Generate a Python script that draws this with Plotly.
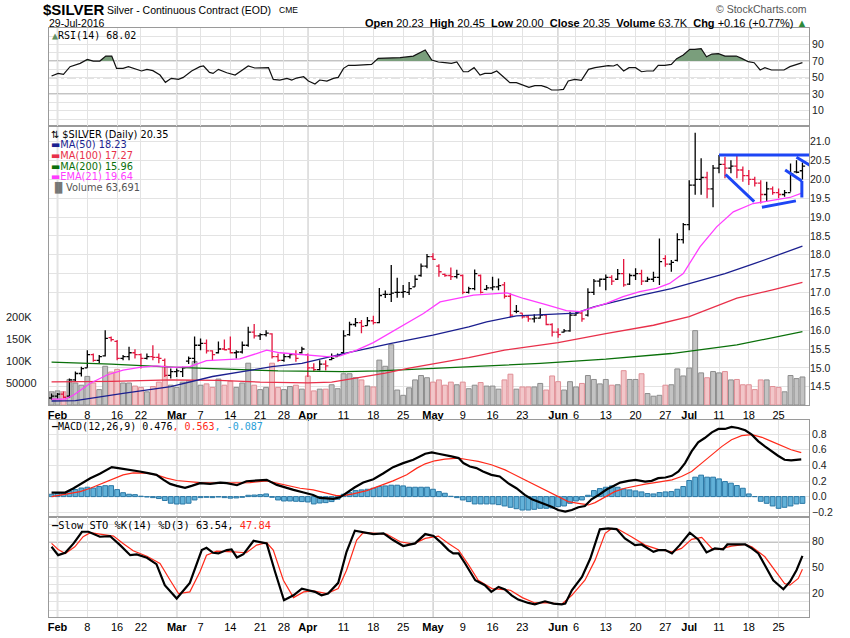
import pandas as pd
import plotly.graph_objects as go

W, H = 850, 638

# ---------------- calendar ----------------
HOLIDAYS = ['2016-02-15', '2016-03-25', '2016-05-30', '2016-07-04']
dates = [d.strftime('%Y-%m-%d') for d in pd.bdate_range('2016-01-29', '2016-07-29')
         if d.strftime('%Y-%m-%d') not in HOLIDAYS]
pos = list(range(len(dates)))

tick_dates = ['2016-02-01', '2016-02-08', '2016-02-16', '2016-02-22', '2016-03-01', '2016-03-07',
              '2016-03-14', '2016-03-21', '2016-03-28', '2016-04-01', '2016-04-11', '2016-04-18',
              '2016-04-25', '2016-05-02', '2016-05-09', '2016-05-16', '2016-05-23', '2016-06-01',
              '2016-06-06', '2016-06-13', '2016-06-20', '2016-06-27', '2016-07-01', '2016-07-11',
              '2016-07-18', '2016-07-25']
tick_text = ['Feb', '8', '16', '22', 'Mar', '7', '14', '21', '28', 'Apr', '11', '18', '25',
             'May', '9', '16', '23', 'Jun', '6', '13', '20', '27', 'Jul', '11', '18', '25']
month_dates = ['2016-02-01', '2016-03-01', '2016-04-01', '2016-05-02', '2016-06-01', '2016-07-01']

# ---------------- price data ----------------
opens = [14.20, 14.25, 14.30, 14.25, 14.68, 14.85, 15.00, 15.35, 15.20, 15.32,
         15.80, 15.70, 15.25, 15.30, 15.40, 15.35, 15.25, 15.30, 15.28, 15.20,
         14.80, 14.90, 14.90, 15.18, 15.25, 15.60, 15.65, 15.45, 15.40, 15.50,
         15.50, 15.40, 15.42, 15.60, 15.95, 15.85, 15.88, 15.90, 15.30, 15.20,
         15.30, 15.35, 15.40, 15.35, 15.00, 14.95, 15.10, 15.22, 15.30, 15.40,
         15.88, 16.15, 16.20, 16.12, 16.25, 16.20, 16.95, 16.95, 17.00, 17.00,
         17.00, 17.15, 17.45, 17.70, 17.95, 17.70, 17.48, 17.45, 17.42, 17.45,
         17.00, 17.10, 17.45, 17.08, 17.12, 17.15, 17.20, 16.90, 16.50, 16.45,
         16.35, 16.30, 16.32, 16.40, 16.15, 15.95, 15.95, 15.98, 16.40, 16.45,
         16.40, 17.00, 17.30, 17.35, 17.40, 17.35, 17.50, 17.22, 17.45, 17.50,
         17.30, 17.35, 17.40, 17.90, 17.75, 17.85, 18.40, 18.80, 19.85, 20.00,
         20.05, 19.75, 20.30, 20.40, 20.30, 20.35, 20.25, 20.10, 20.00, 19.90,
         19.60, 19.75, 19.65, 19.60, 19.65, 20.20, 20.23]
highs = [14.32, 14.33, 14.37, 14.72, 14.90, 15.03, 15.47, 15.38, 15.34, 16.00,
         15.83, 15.74, 15.34, 15.56, 15.49, 15.38, 15.38, 15.60, 15.38, 15.25,
         14.98, 14.98, 15.03, 15.30, 15.83, 15.78, 15.75, 15.47, 15.70, 15.75,
         15.83, 15.47, 15.70, 16.09, 16.16, 15.92, 16.00, 15.92, 15.38, 15.38,
         15.38, 15.47, 15.56, 15.38, 15.12, 15.20, 15.20, 15.38, 15.38, 16.00,
         16.22, 16.32, 16.27, 16.35, 16.38, 17.12, 17.05, 17.73, 17.39, 17.20,
         17.28, 17.46, 17.77, 18.02, 18.04, 17.75, 17.50, 17.66, 17.60, 17.48,
         17.15, 17.61, 17.48, 17.20, 17.42, 17.37, 17.28, 16.98, 16.67, 16.45,
         16.40, 16.42, 16.58, 16.40, 16.18, 16.05, 16.03, 16.49, 16.49, 16.49,
         17.11, 17.36, 17.37, 17.48, 17.46, 17.62, 17.89, 17.50, 17.64, 17.60,
         17.42, 17.55, 18.43, 17.99, 17.86, 18.57, 18.84, 19.98, 21.24, 20.56,
         20.20, 20.38, 20.65, 20.60, 20.51, 20.65, 20.34, 20.25, 20.07, 19.98,
         19.94, 19.81, 19.76, 19.72, 20.42, 20.51, 20.45]
lows = [14.15, 14.18, 14.19, 14.20, 14.63, 14.77, 15.00, 15.16, 15.12, 15.30,
        15.70, 15.20, 15.20, 15.20, 15.25, 14.98, 15.22, 15.20, 15.12, 14.76,
        14.72, 14.76, 14.76, 15.10, 15.12, 15.47, 15.38, 15.20, 15.38, 15.47,
        15.38, 15.25, 15.38, 15.56, 15.78, 15.74, 15.83, 15.25, 15.16, 15.16,
        15.25, 15.16, 15.38, 14.76, 14.90, 14.93, 14.93, 15.20, 15.29, 15.38,
        15.85, 16.09, 15.92, 16.12, 16.15, 16.18, 16.85, 16.75, 16.86, 16.86,
        16.93, 17.15, 17.42, 17.64, 17.86, 17.42, 17.42, 17.33, 17.37, 16.95,
        16.97, 17.06, 16.97, 17.06, 17.06, 17.06, 16.84, 16.34, 16.45, 16.31,
        16.22, 16.20, 16.31, 16.13, 15.83, 15.80, 15.94, 15.96, 16.38, 16.22,
        16.36, 16.93, 17.15, 17.06, 17.20, 17.33, 17.15, 17.20, 17.33, 17.20,
        17.28, 17.28, 17.20, 17.68, 17.55, 17.82, 18.30, 18.65, 19.59, 19.59,
        19.50, 19.26, 20.16, 20.03, 20.16, 20.03, 19.94, 19.85, 19.81, 19.36,
        19.41, 19.59, 19.50, 19.54, 19.67, 20.16, 20.00]
closes = [14.25, 14.30, 14.22, 14.68, 14.85, 14.98, 15.35, 15.20, 15.30, 15.78,
          15.75, 15.25, 15.30, 15.40, 15.35, 15.25, 15.30, 15.28, 15.25, 14.80,
          14.90, 14.92, 15.00, 15.25, 15.60, 15.65, 15.45, 15.35, 15.50, 15.48,
          15.40, 15.42, 15.60, 15.95, 15.85, 15.88, 15.92, 15.30, 15.20, 15.30,
          15.35, 15.25, 15.50, 15.00, 14.95, 15.10, 15.05, 15.25, 15.33, 15.85,
          16.15, 16.20, 16.10, 16.25, 16.20, 16.92, 16.95, 16.98, 17.00, 17.02,
          17.10, 17.35, 17.70, 17.95, 17.88, 17.55, 17.45, 17.42, 17.48, 17.00,
          17.10, 17.50, 17.00, 17.12, 17.15, 17.18, 16.90, 16.40, 16.50, 16.35,
          16.30, 16.32, 16.40, 16.15, 15.95, 15.88, 15.98, 16.40, 16.45, 16.30,
          17.00, 17.30, 17.35, 17.40, 17.30, 17.50, 17.20, 17.45, 17.50, 17.30,
          17.35, 17.40, 17.82, 17.75, 17.80, 18.40, 18.80, 19.85, 20.00, 20.05,
          19.75, 20.30, 20.40, 20.30, 20.35, 20.25, 20.10, 20.00, 19.90, 19.60,
          19.75, 19.65, 19.60, 19.65, 20.15, 20.19, 20.35]
volume_k = [30, 32, 30, 58, 50, 45, 65, 50, 35, 88,
            75, 81, 50, 50, 43, 40, 30, 42, 52, 88,
            45, 40, 52, 55, 99, 45, 48, 40, 59, 45,
            54, 40, 50, 95, 45, 35, 40, 95, 40, 35,
            42, 45, 36, 66, 32, 36, 36, 46, 37, 71,
            71, 62, 57, 43, 41, 102, 88, 137, 34, 22,
            39, 57, 67, 62, 52, 57, 45, 52, 46, 52,
            37, 45, 51, 43, 43, 36, 57, 70, 36, 41,
            41, 41, 49, 34, 66, 53, 34, 53, 41, 49,
            67, 58, 48, 58, 45, 46, 78, 58, 58, 71,
            26, 20, 22, 45, 46, 82, 66, 84, 169, 73,
            62, 76, 73, 76, 57, 58, 46, 46, 35, 57,
            57, 42, 40, 30, 67, 60, 63.691]
volume_ticks = [50000, 100000, 150000, 200000]
volume_ticktext = ['50000', '100K', '150K', '200K']

# ---------------- overlays (bar position, value) ----------------
ma50_pos = [0, 4, 12, 20, 27, 37, 42, 49, 57, 64, 70, 73, 78, 85, 88, 91, 99, 104, 107, 113, 118, 126]
ma50_val = [14.12, 14.13, 14.32, 14.5, 14.77, 15.03, 15.12, 15.38, 15.65, 15.87, 16.09, 16.22, 16.38,
            16.42, 16.45, 16.62, 16.93, 17.1, 17.24, 17.5, 17.77, 18.23]
ma100_pos = [0, 10, 20, 28, 35, 43, 47, 52, 56, 60, 65, 70, 76, 85, 93, 101, 107, 115, 121, 126]
ma100_val = [14.63, 14.64, 14.68, 14.67, 14.62, 14.6, 14.62, 14.75, 14.86, 14.99, 15.12, 15.27, 15.47,
             15.67, 15.91, 16.13, 16.36, 16.85, 17.07, 17.27]
ma200_pos = [0, 10, 21, 27, 38, 49, 55, 65, 82, 93, 104, 115, 126]
ma200_val = [15.15, 15.1, 15.01, 14.98, 14.92, 14.9, 14.92, 14.99, 15.12, 15.23, 15.38, 15.61, 15.96]
ema21_pos = [0, 2.3, 3.7, 6.5, 9.3, 12, 14.8, 17.6, 20.4, 23.2, 26, 28.8, 31.6, 34.4, 36.1, 38.3, 42.8,
             46.2, 48.4, 51.2, 54, 56.8, 59.6, 62.4, 65.2, 70.8, 76.4, 79.2, 83.1, 86.4, 88.7, 93.1,
             95.9, 98.7, 101.5, 103.7, 106, 108.8, 111.6, 114.4, 117.7, 121.1, 123.9, 126]
ema21_val = [14.17, 14.17, 14.28, 14.59, 14.81, 14.94, 15.01, 15.05, 15.01, 15.03, 15.19, 15.22, 15.24,
             15.38, 15.47, 15.4, 15.34, 15.3, 15.32, 15.47, 15.67, 15.93, 16.18, 16.44, 16.75, 16.93,
             16.99, 16.84, 16.67, 16.52, 16.49, 16.71, 16.89, 17.02, 17.11, 17.24, 17.5, 18.21, 18.74,
             19.14, 19.36, 19.45, 19.52, 19.64]

# hand-drawn trend lines (bar position / price)
tl_x0 = [112.0, 113.1, 119.2, 123.1, 125.9, 125.0]
tl_y0 = [20.65, 20.13, 19.26, 20.25, 19.96, 20.59]
tl_x1 = [127.5, 117.9, 124.9, 125.9, 125.9, 128.1]
tl_y1 = [20.65, 19.41, 19.43, 19.96, 19.52, 20.29]

# ---------------- indicators ----------------
rsi_pos = [0, 1.1, 2, 3.1, 4.8, 6, 7, 8.1, 9.1, 10.1, 10.9, 12, 12.9, 14, 15.1, 16, 17, 18.2, 19.1, 20.1,
           21.3, 22.1, 23.5, 24.9, 25.5, 26.5, 27.1, 28, 29.4, 30.8, 31.9, 33, 34.1, 35.5, 36.4, 37.2,
           38.3, 39.5, 40.3, 41.1, 42.3, 43.1, 44.2, 45, 46.2, 47.3, 48.1, 49, 49.8, 50.9, 52.3, 53.7,
           54.8, 56.5, 58.5, 60.7, 62.7, 63.8, 64.9, 66, 67.1, 68, 69.1, 69.9, 70.9, 71.9, 72.7, 73.8,
           74.7, 75.8, 76.9, 78, 79.2, 80.1, 81.1, 82.2, 83.1, 83.9, 85, 85.9, 86.7, 87.8, 88.9, 90.1,
           91.2, 92.3, 93.4, 94.3, 94.9, 96, 96.9, 98, 99, 99.9, 101, 101.8, 102.9, 104, 104.9, 106,
           107.1, 107.9, 109, 109.9, 110.8, 111.9, 113, 113.8, 114.9, 115.8, 116.9, 117.9, 118.9,
           119.7, 120.8, 121.9, 122.9, 123.9, 124.7, 126]
rsi_val = [51.9, 55.1, 53.9, 63.2, 67.2, 72, 70, 70, 76, 76, 61.2, 61.2, 63.2, 60.4, 58, 60, 58.4, 53.1,
           44.3, 49.1, 47.9, 50.3, 58, 63.2, 64, 56.3, 55.1, 60, 55.9, 53.1, 58.4, 64, 61.6, 61.6, 62,
           47.9, 47.1, 49.1, 47.1, 49.5, 51.1, 45.9, 42.3, 47.1, 45.9, 49.1, 50.3, 61.2, 64.8, 64.8,
           65.2, 66, 73.2, 73.2, 74, 76, 83.3, 71.2, 68.8, 68, 67.2, 68.8, 57.1, 57.1, 62, 53.1, 55.1,
           55.1, 58, 51.1, 43.9, 43.9, 40.7, 38.3, 40.3, 40.3, 38.3, 35.1, 35.1, 35.9, 45.9, 47.9, 46.7,
           60, 62, 63.2, 64.4, 64, 66, 58, 62, 62, 57.1, 58, 58, 64.8, 64.8, 66, 72.8, 77.2, 84.1,
           84.1, 84.9, 75.2, 78.4, 78.8, 76, 76, 76, 73.2, 69.2, 68, 59.2, 62, 59.2, 59.2, 59.2, 63.2,
           65.2, 68.02]

macd_pos = [0, 2.3, 3.7, 5.1, 6.5, 8.1, 10.1, 11.2, 12.3, 13.7, 14.8, 16.2, 17.6, 18.8, 19.9, 21, 22.4,
            23.5, 24.9, 26.6, 28.3, 29.4, 31.1, 32.7, 34.4, 36.1, 37.8, 39.2, 40.6, 42.3, 43.9, 45,
            46.2, 47.3, 48.4, 49.5, 50.9, 52.3, 54, 55.7, 57.3, 59, 60.7, 62.7, 63.8, 64.9, 66, 67.1,
            68.3, 69.1, 70.2, 71.3, 72.4, 73.8, 75.2, 76.6, 78, 79.4, 80.6, 81.7, 82.8, 83.9, 85, 86.2,
            87.3, 88.4, 89.5, 90.6, 91.8, 93.2, 94.3, 95.4, 96.8, 98, 99.6, 100.7, 101.8, 103, 104.1,
            105.2, 106.3, 107.4, 108.5, 109.6, 110.8, 111.9, 113, 114.1, 115.2, 116.4, 117.5, 118.6,
            119.7, 120.8, 121.9, 123, 124.1, 125.8]
macd_val = [0.052, 0.052, 0.107, 0.172, 0.236, 0.292, 0.378, 0.365, 0.352, 0.343, 0.322, 0.3, 0.279,
            0.215, 0.163, 0.137, 0.112, 0.137, 0.172, 0.163, 0.18, 0.172, 0.146, 0.197, 0.21, 0.215,
            0.15, 0.116, 0.086, 0.052, 0.021, -0.017, -0.026, -0.03, -0.009, 0.052, 0.12, 0.18, 0.223,
            0.3, 0.378, 0.429, 0.472, 0.55, 0.567, 0.549, 0.536, 0.515, 0.494, 0.43, 0.386, 0.365,
            0.322, 0.279, 0.258, 0.172, 0.107, 0.021, -0.034, -0.064, -0.094, -0.129, -0.172, -0.193,
            -0.172, -0.137, -0.12, -0.034, 0.021, 0.094, 0.137, 0.18, 0.202, 0.215, 0.193, 0.202,
            0.236, 0.245, 0.266, 0.322, 0.43, 0.579, 0.695, 0.751, 0.824, 0.867, 0.867, 0.893, 0.88,
            0.85, 0.794, 0.708, 0.644, 0.579, 0.524, 0.472, 0.464, 0.476]
signal_pos = [0, 2.5, 4.8, 6.5, 8.1, 10.4, 12, 13.7, 16, 17.6, 19.3, 21, 22.7, 24.9, 27.7, 30.5, 33.3,
              36.1, 37.8, 39.5, 41.7, 43.9, 46.2, 47.8, 48.9, 50.6, 52.9, 55.1, 57.3, 59.6, 61.3, 62.7,
              64.3, 66, 68.3, 69.9, 71.6, 73.8, 76.1, 78.3, 80.6, 82.8, 85, 86.7, 88.4, 90.1, 91.2,
              92.9, 94.5, 96.2, 97.9, 99.6, 101.8, 104.1, 105.7, 107.4, 109.1, 110.8, 112.5, 114.1,
              115.8, 117.5, 119.2, 120.8, 122.5, 124.1, 125.8]
signal_val = [0.0, 0.03, 0.064, 0.107, 0.159, 0.236, 0.279, 0.305, 0.3, 0.279, 0.236, 0.206, 0.193,
              0.18, 0.172, 0.172, 0.18, 0.202, 0.172, 0.137, 0.107, 0.086, 0.041, 0.013, 0.013, 0.034,
              0.077, 0.137, 0.202, 0.279, 0.365, 0.42, 0.459, 0.481, 0.494, 0.472, 0.451, 0.408,
              0.343, 0.258, 0.172, 0.086, 0.0, -0.064, -0.086, -0.107, -0.077, 0.0, 0.064, 0.107,
              0.137, 0.159, 0.185, 0.215, 0.258, 0.322, 0.429, 0.536, 0.644, 0.73, 0.781, 0.794,
              0.76, 0.708, 0.652, 0.601, 0.563]
macd_hist = [0.03, 0.04, 0.05, 0.07, 0.09, 0.11, 0.12, 0.11, 0.13, 0.14,
             0.14, 0.09, 0.05, 0.03, 0.025, 0.005, -0.005, -0.013, -0.025, -0.05,
             -0.085, -0.095, -0.095, -0.085, -0.043, -0.013, -0.009, -0.013, -0.005, -0.013,
             -0.02, -0.017, -0.009, 0.017, 0.02, 0.025, 0.034, -0.009, -0.043, -0.056,
             -0.056, -0.06, -0.064, -0.069, -0.094, -0.082, -0.077, -0.064, -0.034, 0.03,
             0.05, 0.077, 0.086, 0.094, 0.107, 0.129, 0.137, 0.146, 0.146, 0.137,
             0.12, 0.12, 0.12, 0.12, 0.094, 0.064, 0.043, 0.004, -0.013, -0.043,
             -0.064, -0.094, -0.094, -0.094, -0.094, -0.103, -0.12, -0.137, -0.155, -0.172,
             -0.172, -0.163, -0.15, -0.15, -0.146, -0.129, -0.12, -0.086, -0.056, -0.043,
             0.017, 0.077, 0.103, 0.12, 0.137, 0.12, 0.099, 0.086, 0.073, 0.06,
             0.039, 0.034, 0.052, 0.06, 0.064, 0.094, 0.129, 0.206, 0.249, 0.275,
             0.249, 0.249, 0.227, 0.193, 0.172, 0.142, 0.107, 0.034, 0.0, -0.06,
             -0.086, -0.12, -0.15, -0.137, -0.12, -0.094, -0.087]

stok_pos = [0, 1.1, 2.3, 3.7, 5.1, 6.2, 8.1, 9.8, 11.5, 13.2, 14.3, 16, 17.6, 19, 21, 23.2, 25.2, 26,
            27.1, 28, 29.4, 30.2, 31.1, 32.2, 33.9, 35.3, 36.1, 37.5, 39, 40.6, 42, 43.1, 44.2, 45.3,
            46.4, 48.1, 49.5, 50.9, 52.3, 54, 55.7, 57.3, 59, 61, 62.7, 64.1, 65.5, 66.6, 67.4, 68.3,
            69.4, 71.1, 72.7, 73.8, 75, 76.1, 77.2, 78.3, 80, 81.1, 82.8, 84.2, 85.6, 86.2, 87.3, 89,
            90.4, 92, 93.4, 94.8, 96.2, 97.9, 99, 101, 101.8, 103, 104.1, 105.4, 107.1, 108.5, 109.9,
            111.3, 112.7, 113.4, 114.9, 116.4, 117.5, 118.6, 119.7, 121.1, 122.8, 123.9, 125, 126]
stok_val = [74.2, 64.4, 67.2, 78.1, 91.7, 91.7, 85.9, 86.7, 76.1, 64.4, 65.2, 61.3, 53.9, 29.4, 13.8,
            32.1, 70.3, 73, 67.2, 66.4, 70.3, 71.1, 61.7, 65.6, 81.2, 78.9, 78.1, 45, 11.8, 17.6, 25.4,
            23.5, 21.6, 17.6, 19.6, 32.1, 68.3, 92.9, 91, 89, 89.8, 82, 75, 78.1, 89, 86.7, 78.1,
            70.3, 66.4, 66.4, 54.7, 35.2, 29.4, 21.6, 27.4, 24.3, 17.6, 12.6, 8.7, 7.1, 10.6, 7.9,
            7.1, 7.9, 23.5, 39.1, 60.5, 94.5, 95.6, 94.8, 83.9, 76.1, 76.9, 68.3, 70.3, 70.3, 66.4,
            76.1, 90.6, 82.8, 67.6, 72.3, 71.1, 76.9, 76.9, 76.9, 72.3, 66.4, 52.7, 35.2, 24.7, 33.3,
            46.9, 63.54]
stod_pos = [0, 1.1, 2.3, 3.9, 5.3, 6.5, 8.1, 10.4, 12, 13.7, 16, 18.2, 19.9, 21.3, 23.2, 24.9, 26,
            27.7, 30.5, 32.7, 34.4, 36.1, 37.2, 38.9, 40.6, 42.3, 43.9, 46.2, 48.1, 49.5, 51.2, 52.3,
            54.6, 56.2, 58.5, 60.7, 62.7, 64.9, 66.6, 68.3, 70, 71.6, 73.9, 77, 79, 81.1, 83.4, 85.6,
            87.3, 89.5, 91.2, 92.9, 94, 95.1, 97.3, 99.6, 101.8, 104.1, 105.7, 107.4, 109.1, 110.8,
            111.9, 114.1, 116.4, 117.5, 119.7, 121.4, 123, 123.9, 125.3, 126]
stod_val = [78.1, 71.1, 66.4, 74.2, 85.9, 90.6, 89, 86.7, 78.1, 69.5, 63.2, 54.7, 35.2, 19.6, 21.6, 45,
            64.4, 69.1, 68.3, 67.2, 76.1, 78.9, 70.3, 35.2, 14.9, 21.6, 22.7, 19.6, 25.4, 46.9, 82,
            90.6, 89.8, 89, 80, 77.3, 83.9, 86.7, 78.1, 70.3, 52.7, 35.2, 25.4, 23.5, 14.9, 8.7, 9.1,
            7.1, 17.6, 35.2, 58.6, 89.8, 95.6, 94.5, 85.9, 76.1, 71.1, 68.3, 72.3, 82.8, 85.1, 72.3,
            71.1, 75, 76.9, 74.2, 62.5, 46.9, 31.3, 29.4, 37.2, 47.84]

# ---------------- styling constants ----------------
SANS = 'Liberation Sans, Arial, sans-serif'
MONO = 'DejaVu Sans Mono, monospace'
LEG = 'DejaVu Sans, Verdana, sans-serif'
GRID = '#e3e3e3'
MONTH_GRID = '#c6c6c6'
BORDER = '#9a9a9a'
UP_C, DOWN_C = '#000000', '#e3163f'
C_MA50, C_MA100, C_MA200, C_EMA = '#1b1f8f', '#e8304a', '#0a700a', '#ff3cff'

XD = [49 / W, 809 / W]


def ydom(top, bottom):
    return [1 - bottom / H, 1 - top / H]


RSI_D, MAIN_D, MACD_D, STO_D = ydom(28, 126), ydom(126, 405), ydom(420, 517), ydom(517, 617)
XR = [-0.43, 127.1]

n = min(len(dates), len(closes))
pos = pos[:n]
date_idx = {d: i for i, d in enumerate(dates)}
tickvals = [date_idx[d] for d in tick_dates if d in date_idx]
ticktext = ['<b>%s</b>' % t if d in month_dates else t for d, t in zip(tick_dates, tick_text) if d in date_idx]
month_pos = [date_idx[d] for d in month_dates if d in date_idx]

up = [i for i in range(n) if i == 0 or closes[i] >= closes[i - 1]]
dn = [i for i in range(n) if i > 0 and closes[i] < closes[i - 1]]

fig = go.Figure()

# volume (base axis of main panel)
for idx, fc, lc in ((up, '#c3c3c3', '#8d8d8d'), (dn, '#f2c6c9', '#e08f96')):
    fig.add_trace(go.Bar(x=[pos[i] for i in idx], y=[volume_k[i] * 1000 for i in idx], width=0.82,
                         marker=dict(color=fc, line=dict(color=lc, width=1)),
                         xaxis='x', yaxis='y', hoverinfo='skip'))

# moving averages
for px_, vv, col in ((ma200_pos, ma200_val, C_MA200), (ma100_pos, ma100_val, C_MA100),
                     (ma50_pos, ma50_val, C_MA50), (ema21_pos, ema21_val, C_EMA)):
    fig.add_trace(go.Scatter(x=px_, y=vv, mode='lines', line=dict(color=col, width=1.3),
                             xaxis='x', yaxis='y2', hoverinfo='skip'))

# price bars
for idx, col in ((up, UP_C), (dn, DOWN_C)):
    fig.add_trace(go.Ohlc(x=[pos[i] for i in idx], open=[opens[i] for i in idx],
                          high=[highs[i] for i in idx], low=[lows[i] for i in idx],
                          close=[closes[i] for i in idx], tickwidth=0.45,
                          increasing=dict(line=dict(color=col, width=1.3)),
                          decreasing=dict(line=dict(color=col, width=1.3)),
                          xaxis='x', yaxis='y2', hoverinfo='skip'))


# RSI with fill above 70
def above(xs, ys, thr):
    X, Y = [], []
    for i in range(len(xs)):
        if i > 0:
            a, b = ys[i - 1], ys[i]
            if (a - thr) * (b - thr) < 0:
                t = (thr - a) / (b - a)
                X.append(xs[i - 1] + t * (xs[i] - xs[i - 1]))
                Y.append(thr)
        X.append(xs[i])
        Y.append(max(ys[i], thr))
    return X, Y


fx, fy = above(rsi_pos, rsi_val, 70)
fig.add_trace(go.Scatter(x=fx, y=[70] * len(fx), mode='lines', line=dict(width=0, color='rgba(0,0,0,0)'),
                         xaxis='x2', yaxis='y3', hoverinfo='skip'))
fig.add_trace(go.Scatter(x=fx, y=fy, mode='lines', line=dict(width=0, color='rgba(0,0,0,0)'),
                         fill='tonexty', fillcolor='#7a9e7c', xaxis='x2', yaxis='y3', hoverinfo='skip'))
fig.add_trace(go.Scatter(x=rsi_pos, y=rsi_val, mode='lines', line=dict(color='#111', width=1.2),
                         xaxis='x2', yaxis='y3', hoverinfo='skip'))

# MACD
fig.add_trace(go.Bar(x=pos, y=macd_hist[:n], width=0.8,
                     marker=dict(color='#62b1d8', line=dict(color='#2a78a6', width=1)),
                     xaxis='x3', yaxis='y4', hoverinfo='skip'))
fig.add_trace(go.Scatter(x=signal_pos, y=signal_val, mode='lines', line=dict(color='#ff2a1a', width=1.2),
                         xaxis='x3', yaxis='y4', hoverinfo='skip'))
fig.add_trace(go.Scatter(x=macd_pos, y=macd_val, mode='lines', line=dict(color='#000', width=2.2),
                         xaxis='x3', yaxis='y4', hoverinfo='skip'))

# Slow stochastic
fig.add_trace(go.Scatter(x=stod_pos, y=stod_val, mode='lines', line=dict(color='#ff2a1a', width=1.2),
                         xaxis='x4', yaxis='y5', hoverinfo='skip'))
fig.add_trace(go.Scatter(x=stok_pos, y=stok_val, mode='lines', line=dict(color='#000', width=2.2),
                         xaxis='x4', yaxis='y5', hoverinfo='skip'))

# ---------------- axes ----------------
xbase = dict(range=XR, tickmode='array', tickvals=tickvals, ticktext=ticktext, showgrid=True,
             gridcolor=GRID, gridwidth=1, zeroline=False, showline=True, mirror=True, linecolor=BORDER,
             ticks='', tickfont=dict(family=SANS, size=11, color='#000'), domain=XD, fixedrange=True)
ybase = dict(zeroline=False, showline=True, mirror=True, linecolor=BORDER, ticks='', side='right',
             gridcolor=GRID, tickfont=dict(family=SANS, size=10.5, color='#222'), fixedrange=True)

vmax = 50000 * (405 - 126) / 22.0
layout = dict(
    width=W, height=H, margin=dict(l=0, r=0, t=0, b=0), paper_bgcolor='white', plot_bgcolor='white',
    showlegend=False, barmode='overlay', bargap=0,
    xaxis=dict(xbase, anchor='y', showticklabels=True, rangeslider=dict(visible=False)),
    xaxis2=dict(xbase, anchor='y3', showticklabels=False, rangeslider=dict(visible=False)),
    xaxis3=dict(xbase, anchor='y4', showticklabels=False),
    xaxis4=dict(xbase, anchor='y5', showticklabels=True),
    yaxis=dict(ybase, domain=MAIN_D, anchor='x', side='left', range=[0, vmax], showgrid=False,
               showticklabels=False),
    yaxis2=dict(ybase, overlaying='y', anchor='x', range=[14.014, 21.417], showgrid=True,
                showline=False, tickmode='array', tickvals=[14.5 + 0.5 * i for i in range(14)],
                tickformat='.1f'),
    yaxis3=dict(ybase, domain=RSI_D, anchor='x2', range=[-8.3, 109.8], showgrid=True, tickmode='array',
                tickvals=[10, 30, 50, 70, 90],
                minor=dict(tickvals=[0, 20, 40, 60, 80, 100], showgrid=True, gridcolor=GRID, ticks='')),
    yaxis4=dict(ybase, domain=MACD_D, anchor='x3', range=[-0.2615, 0.982], showgrid=True,
                tickmode='array', tickvals=[-0.2, 0.0, 0.2, 0.4, 0.6, 0.8], tickformat='.1f'),
    yaxis5=dict(ybase, domain=STO_D, anchor='x4', range=[-7.7, 108.9], showgrid=True, tickmode='array',
                tickvals=[20, 50, 80],
                minor=dict(tickvals=[0, 10, 30, 40, 60, 70, 90, 100], showgrid=True, gridcolor=GRID,
                           ticks='')),
)
fig.update_layout(**layout)

# ---------------- shapes ----------------
shapes = []
for xr_, yr_ in (('x', 'y'), ('x2', 'y3'), ('x3', 'y4'), ('x4', 'y5')):
    for m in month_pos:
        shapes.append(dict(type='line', xref=xr_, yref=yr_ + ' domain', x0=m, x1=m, y0=0, y1=1,
                           layer='below', line=dict(color=MONTH_GRID, width=1.5)))
for yr_, levels in (('y3', (70, 30)), ('y5', (80, 20))):
    xr_ = 'x2' if yr_ == 'y3' else 'x4'
    for lv in levels:
        shapes.append(dict(type='line', xref=xr_ + ' domain', yref=yr_, x0=0, x1=1, y0=lv, y1=lv,
                           layer='below', line=dict(color='#8a8a8a', width=1.2)))
    shapes.append(dict(type='line', xref=xr_ + ' domain', yref=yr_, x0=0, x1=1, y0=50, y1=50,
                       layer='below', line=dict(color='#8a8a8a', width=1.1, dash='dashdot')))
for a, b, c, d in zip(tl_x0, tl_y0, tl_x1, tl_y1):
    shapes.append(dict(type='line', xref='x', yref='y2', x0=a, y0=b, x1=c, y1=d, layer='above',
                       line=dict(color='#1d46f5', width=3)))
fig.update_layout(shapes=shapes)


# ---------------- text ----------------
def ann(x, y, text, size=10, family=SANS, color='#000', xanchor='left'):
    return dict(x=x / W, y=1 - y / H, xref='paper', yref='paper', text=text, showarrow=False,
                xanchor=xanchor, yanchor='middle', borderpad=0,
                font=dict(family=family, size=size, color=color))


def span(t, c):
    return '<span style="color:%s">%s</span>' % (c, t)


LS = 9.8
anns = [
    ann(42, 10, '<b>$SILVER</b>', size=15, family=SANS),
    ann(106, 10, 'Silver - Continuous Contract (EOD)', size=10.5),
    ann(278, 10.5, 'CME', size=8.5),
    ann(48, 22.5, '29-Jul-2016', size=10.5),
    ann(808, 9, '\u00a9 StockCharts.com', size=10.5, color='#555', xanchor='right'),
    ann(808, 22.5, '<b>Open</b> 20.23  <b>High</b> 20.45  <b>Low</b> 20.00  <b>Close</b> 20.35  '
                   '<b>Volume</b> 63.7K  <b>Chg</b> +0.16 (+0.77%) ' + span('\u25b2', '#2d8a3a'),
        size=11, xanchor='right'),
    ann(51, 35, span('\u25b2', '#5f8f63') + 'RSI(14) 68.02', size=10, family=MONO),
    ann(50, 134, '\u21c5 $SILVER (Daily) 20.35', size=LS, family=LEG),
    ann(50, 144.6, span('\u25ac', C_MA50) + span('MA(50) 18.23', C_MA50), size=LS, family=LEG),
    ann(50, 155.3, span('\u25ac', C_MA100) + span('MA(100) 17.27', C_MA100), size=LS, family=LEG),
    ann(50, 166, span('\u25ac', C_MA200) + span('MA(200) 15.96', C_MA200), size=LS, family=LEG),
    ann(50, 176.8, span('\u25ac', C_EMA) + span('EMA(21) 19.64', C_EMA), size=LS, family=LEG),
    ann(50, 187.6, span('\u2590\u258c', '#777') + span('Volume 63,691', '#555'), size=LS, family=LEG),
    ann(51, 426.5, '<b>\u2014</b>MACD(12,26,9) 0.476' + span(', 0.563', '#ff2a1a') + span(', -0.087', '#2a9fd8'),
        size=10, family=MONO),
    ann(51, 525, '<b>\u2014</b>Slow STO %K(14) %D(3) 63.54, ' + span('47.84', '#ff2a1a'), size=10.4, family=MONO),
]
# volume scale labels, placed through the volume axis
for v, t in zip(volume_ticks, volume_ticktext):
    anns.append(dict(x=4 / W, xref='paper', y=v, yref='y', text=t, showarrow=False, xanchor='left',
                     yanchor='middle', font=dict(family=SANS, size=11, color='#222')))
fig.update_layout(annotations=anns)

fig.write_html('out.html', include_plotlyjs=True, config={'displayModeBar': False, 'staticPlot': True},
               post_script="document.body.style.margin='0';document.body.style.overflow='hidden';")
